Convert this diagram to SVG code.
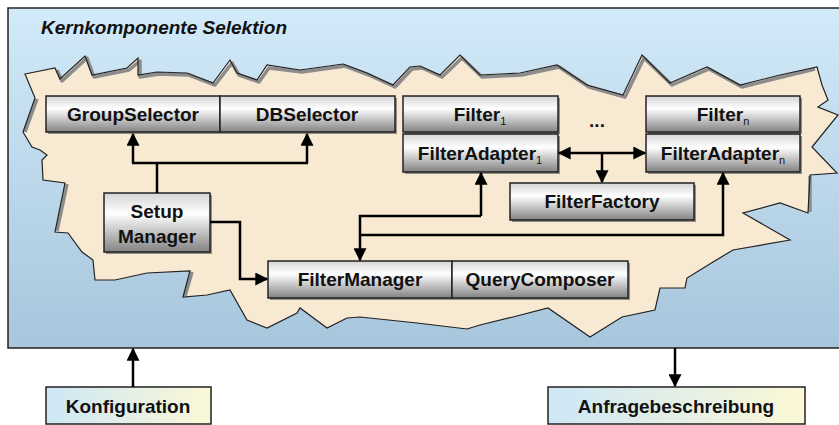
<svg xmlns="http://www.w3.org/2000/svg" width="839" height="425" viewBox="0 0 839 425">
  <style>
    .lbl { font-family: "Liberation Sans", Arial, sans-serif; font-weight: bold; font-size: 19px; fill: #111; text-anchor: middle; }
    .sub { font-size: 11px; font-weight: normal; }
    .box { fill: url(#metal); stroke: #222; stroke-width: 1.5; }
    .shadow { fill: #444; opacity: 0.55; }
    .io { fill: url(#pale); stroke: #222; stroke-width: 1.5; }
    .wire { fill: none; stroke: #000; stroke-width: 2.5; }
    .arrow { marker-end: url(#head); }
    .bevel { fill: none; stroke: #8c8c8c; stroke-width: 3.5; stroke-linejoin: round; }
  </style>
  <defs>
    <linearGradient id="sky" x1="0" y1="0" x2="0" y2="1">
      <stop offset="0" stop-color="#d2eaf9"/>
      <stop offset="1" stop-color="#a7c6dc"/>
    </linearGradient>
    <linearGradient id="metal" x1="0" y1="0" x2="0" y2="1">
      <stop offset="0" stop-color="#d4d4d4"/>
      <stop offset="0.35" stop-color="#ffffff"/>
      <stop offset="1" stop-color="#828282"/>
    </linearGradient>
    <linearGradient id="pale" x1="0" y1="0" x2="1" y2="0">
      <stop offset="0" stop-color="#cde7f6"/>
      <stop offset="1" stop-color="#fbf8d6"/>
    </linearGradient>
    <marker id="head" viewBox="0 0 10 10" refX="9" refY="5" markerWidth="6" markerHeight="5.2" orient="auto-start-reverse" markerUnits="strokeWidth">
      <path d="M0,0 L10,5 L0,10 Z" fill="#000"/>
    </marker>
    <polygon id="blobShape" points="25,74 55,68 60,79 85,56 92,75 127,68 138,58 138,75 157,72 187,73 213,83 230,60 237,73 257,80 267,65 300,70 343,64 367,73 393,85 410,67 420,66 440,75 460,55 480,75 520,73 557,65 587,85 623,95 642,55 670,83 707,67 740,85 780,75 817,67 822,85 828,100 818,107 838,115 812,147 837,173 810,175 808,213 780,203 743,213 790,240 733,250 713,262 687,278 685,288 660,288 655,310 622,317 590,337 548,308 513,317 480,325 467,329 417,323 360,317 347,318 327,328 300,308 297,313 267,328 247,320 230,290 207,295 183,297 190,271 147,273 115,280 95,280 93,260 82,252 68,233 55,232 65,183 43,180 42,160 47,155 40,150 32,147 23,132 35,98"/>
  </defs>

  <!-- component frame -->
  <g id="frame">
    <rect x="8" y="8" width="840" height="340" fill="url(#sky)" stroke="#222" stroke-width="1.5"/>
    <text x="41" y="34" font-family="Liberation Sans, Arial, sans-serif" font-weight="bold" font-style="italic" font-size="19" fill="#111">Kernkomponente Selektion</text>
  </g>

  <!-- torn paper area with bevelled upper and left edges -->
  <g id="area">
    <use href="#blobShape" fill="#f8e9d2"/>
    <polyline class="bevel" points="57,70 62,81 87,58 94,77 129,70 140,61 140,77 159,74 189,75 215,85 232,63 239,75 259,82 269,68 302,72 345,66 369,75 395,87 412,69 422,68 442,77 462,58 482,77 522,75 559,67 589,87 625,97 644,58 672,85 709,69 742,87 782,77 815,69"/>
    <polyline class="bevel" points="57,231 67,184"/>
    <polyline class="bevel" points="25,132 37,99"/>
    <polyline class="bevel" points="185,296 192,272"/>
    <polyline class="bevel" points="810,176 810,212"/>
    <use href="#blobShape" fill="none" stroke="#222" stroke-width="1.2"/>
  </g>

  <g id="groupselector">
    <rect class="shadow" x="48" y="98" width="174" height="36"/>
    <rect class="box" x="46" y="96" width="174" height="36"/>
    <text class="lbl" x="133" y="121">GroupSelector</text>
  </g>
  <g id="dbselector">
    <rect class="shadow" x="222" y="98" width="175" height="36"/>
    <rect class="box" x="220" y="96" width="175" height="36"/>
    <text class="lbl" x="307" y="121">DBSelector</text>
  </g>

  <g id="filter1">
    <rect class="shadow" x="405" y="98" width="155" height="36"/>
    <rect class="box" x="403" y="96" width="155" height="36"/>
    <text class="lbl" x="480" y="121">Filter<tspan class="sub" dy="4">1</tspan></text>
  </g>
  <g id="filteradapter1">
    <rect class="shadow" x="405" y="136" width="155" height="38"/>
    <rect class="box" x="403" y="134" width="155" height="38"/>
    <text class="lbl" x="480" y="160">FilterAdapter<tspan class="sub" dy="4">1</tspan></text>
  </g>

  <g id="ellipsis">
    <text class="lbl" x="597" y="127">...</text>
  </g>

  <g id="filtern">
    <rect class="shadow" x="648" y="98" width="154" height="36"/>
    <rect class="box" x="646" y="96" width="154" height="36"/>
    <text class="lbl" x="723" y="121">Filter<tspan class="sub" dy="4">n</tspan></text>
  </g>
  <g id="filteradaptern">
    <rect class="shadow" x="648" y="136" width="154" height="38"/>
    <rect class="box" x="646" y="134" width="154" height="38"/>
    <text class="lbl" x="723" y="160">FilterAdapter<tspan class="sub" dy="4">n</tspan></text>
  </g>

  <g id="filterfactory">
    <rect class="shadow" x="512" y="185" width="184" height="37"/>
    <rect class="box" x="510" y="183" width="184" height="37"/>
    <text class="lbl" x="602" y="208">FilterFactory</text>
  </g>

  <g id="setupmanager">
    <rect class="shadow" x="106" y="195" width="106" height="59"/>
    <rect class="box" x="104" y="193" width="106" height="59"/>
    <text class="lbl" x="157" y="218">Setup</text>
    <text class="lbl" x="157" y="243">Manager</text>
  </g>

  <g id="filtermanager">
    <rect class="shadow" x="270" y="263" width="184" height="37"/>
    <rect class="box" x="268" y="261" width="184" height="37"/>
    <text class="lbl" x="360" y="286">FilterManager</text>
  </g>
  <g id="querycomposer">
    <rect class="shadow" x="454" y="263" width="176" height="37"/>
    <rect class="box" x="452" y="261" width="176" height="37"/>
    <text class="lbl" x="540" y="286">QueryComposer</text>
  </g>

  <g id="konfiguration">
    <rect class="io" x="46" y="387" width="165" height="37"/>
    <text class="lbl" x="128" y="413">Konfiguration</text>
  </g>
  <g id="anfragebeschreibung">
    <rect class="io" x="548" y="387" width="257" height="37"/>
    <text class="lbl" x="676" y="413">Anfragebeschreibung</text>
  </g>

  <!-- connectors -->
  <g id="connectors">
    <path class="wire" d="M157,193 V163"/>
    <path class="wire" d="M132,163 H308"/>
    <path class="wire arrow" d="M133,163 V134"/>
    <path class="wire arrow" d="M307,163 V134"/>
    <path class="wire arrow" d="M210,222 H240 V279 H267"/>
    <path class="wire arrow" d="M481,216 V173"/>
    <path class="wire arrow" d="M481,216 H360 V260"/>
    <path class="wire arrow" d="M360,235 H723 V173"/>
    <path class="wire arrow" d="M602,153 H645"/>
    <path class="wire arrow" d="M602,153 H559"/>
    <path class="wire arrow" d="M602,153 V182"/>
    <path class="wire arrow" d="M133,387 V349"/>
    <path class="wire arrow" d="M675,348 V386"/>
  </g>
</svg>
